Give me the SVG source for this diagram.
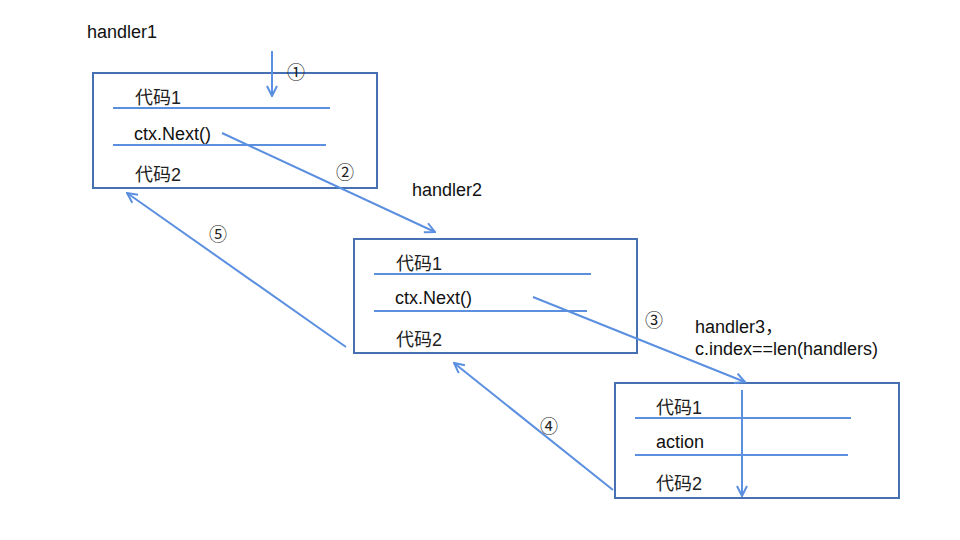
<svg xmlns="http://www.w3.org/2000/svg" width="960" height="540" viewBox="0 0 960 540">
<defs>
<style>
.box{fill:none;stroke:#4670b2;stroke-width:2}
.sep{stroke:#5b8fe0;stroke-width:2}
.con{stroke:#5b8fe0;stroke-width:2;fill:none;marker-end:url(#ah)}
.t{font-family:"Liberation Sans","Noto Sans CJK SC",sans-serif;font-size:18px;fill:#111}
.c{font-family:"Liberation Sans","Noto Sans CJK SC",sans-serif;font-size:18px;fill:#222}
.n{font-family:"Noto Sans CJK SC","DejaVu Sans",sans-serif;font-size:18px;fill:#222}
</style>
<marker id="ah" viewBox="0 0 12 12" refX="11" refY="6" markerWidth="12" markerHeight="12" markerUnits="userSpaceOnUse" orient="auto">
<path d="M1,1 L11,6 L1,11" fill="none" stroke="#5b8fe0" stroke-width="2"/>
</marker>
</defs>
<rect width="960" height="540" fill="#fff"/>
<g id="handler1">
<text class="t" x="87" y="38">handler1</text>
<rect class="box" x="93" y="73" width="284" height="115"/>
<line class="sep" x1="113" y1="108" x2="330" y2="108"/>
<line class="sep" x1="113" y1="145" x2="326" y2="145"/>
<text class="c" x="135" y="104">代码1</text>
<text class="t" x="134" y="140">ctx.Next()</text>
<text class="c" x="135" y="181">代码2</text>
</g>
<g id="handler2">
<text class="t" x="412" y="196">handler2</text>
<rect class="box" x="354" y="239" width="283" height="114"/>
<line class="sep" x1="374" y1="274" x2="591" y2="274"/>
<line class="sep" x1="374" y1="311" x2="587" y2="311"/>
<text class="c" x="396" y="270">代码1</text>
<text class="t" x="395" y="304">ctx.Next()</text>
<text class="c" x="396" y="346">代码2</text>
</g>
<g id="handler3">
<text class="t" x="695" y="333">handler3，</text>
<text class="t" x="695" y="355">c.index==len(handlers)</text>
<rect class="box" x="615" y="383" width="284" height="115"/>
<line class="sep" x1="635" y1="418" x2="851" y2="418"/>
<line class="sep" x1="635" y1="455" x2="848" y2="455"/>
<text class="c" x="656" y="414">代码1</text>
<text class="t" x="656" y="448">action</text>
<text class="c" x="656" y="490">代码2</text>
</g>
<g id="connectors">
<line class="con" x1="272" y1="51" x2="272" y2="96"/>
<line class="con" x1="222" y1="133" x2="435" y2="232"/>
<line class="con" x1="533" y1="297" x2="745" y2="382"/>
<line class="con" x1="742" y1="390" x2="742" y2="496"/>
<line class="con" x1="613" y1="490" x2="454" y2="363"/>
<line class="con" x1="346" y1="347" x2="127" y2="193"/>
<text class="n" x="287" y="79">①</text>
<text class="n" x="336" y="179">②</text>
<text class="n" x="645" y="327">③</text>
<text class="n" x="540" y="433">④</text>
<text class="n" x="209" y="241">⑤</text>
</g>
</svg>
